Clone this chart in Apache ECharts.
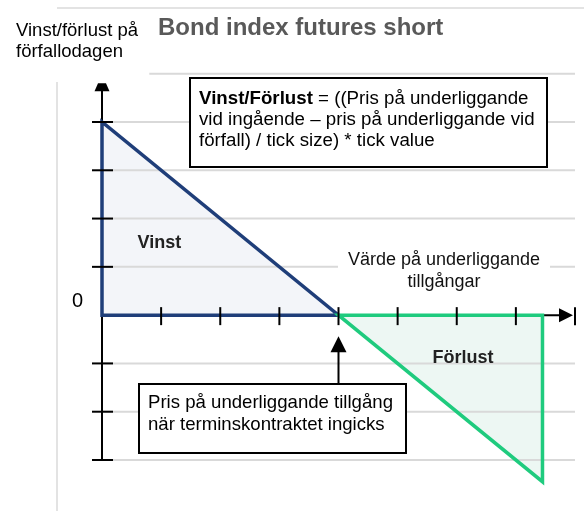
<!DOCTYPE html>
<html>
<head>
<meta charset="utf-8">
<script src="https://cdn.jsdelivr.net/npm/echarts@6/dist/echarts.min.js"></script>
<style>
  html, body { margin: 0; padding: 0; background: #fff; }
  #chart { width: 584px; height: 511px; }
</style>
</head>
<body>
<div id="chart"></div>
<script>
// Payoff of a short bond index future at expiry (schematic units)
const xTicks = [1, 2, 3, 4, 5, 6, 7, 8];          // underlying value ticks
const yTicks = [-3, -2, -1, 1, 2, 3, 4];          // payoff ticks
const gridLevels = [-3, -2, -1, 1, 2, 3, 4, 5];   // horizontal guide lines
const payoffX = [0, 4, 7.45];                     // underlying value at expiry
const payoffY = [4, 0, -3.45];                    // profit / loss at expiry
const entryPrice = 4;                             // price when the contract was entered

const FONT = "'Liberation Sans', Arial, Helvetica, sans-serif";
const X_MIN = 0, X_MAX = 8, Y_MIN = -3, Y_MAX = 5;
const Y_AXIS_TIP = 4.8;

const chart = echarts.init(document.getElementById('chart'), null, { renderer: 'canvas' });

const profitArea = [[payoffX[0], 0], [payoffX[0], payoffY[0]], [payoffX[1], payoffY[1]]];
const lossArea = [[payoffX[1], payoffY[1]], [payoffX[2], 0], [payoffX[2], payoffY[2]]];

function polygonSeries(points, fill, stroke) {
  return {
    type: 'custom', coordinateSystem: 'cartesian2d', clip: false, silent: true,
    data: [[0, 0]],
    renderItem: function (params, api) {
      return {
        type: 'polygon',
        shape: { points: points.map(p => api.coord(p)) },
        style: { fill: fill, stroke: stroke, lineWidth: stroke === 'none' ? 0 : 3.5, lineJoin: 'miter' }
      };
    }
  };
}

const option = {
  animation: false,
  backgroundColor: '#ffffff',
  grid: { left: 102, right: 9, top: 73.7, bottom: 51 },
  xAxis: { type: 'value', min: X_MIN, max: X_MAX, show: false },
  yAxis: { type: 'value', min: Y_MIN, max: Y_MAX, show: false },
  series: [
    // shaded profit / loss regions
    polygonSeries(profitArea, '#F3F5F9', 'none'),
    polygonSeries(lossArea, '#EDF7F3', 'none'),
    // guide lines
    {
      type: 'custom', coordinateSystem: 'cartesian2d', clip: false, silent: true,
      data: [[0, 0]],
      renderItem: function (params, api) {
        return {
          type: 'group',
          children: gridLevels.map(function (v) {
            const a = api.coord([v === Y_MAX ? 0.8 : X_MIN, v]);
            const b = api.coord([X_MAX, v]);
            return { type: 'line', shape: { x1: a[0], y1: a[1], x2: b[0], y2: b[1] },
                     style: { stroke: '#D9D9D9', lineWidth: 2 } };
          })
        };
      }
    },
    // axes with arrow heads
    {
      type: 'custom', coordinateSystem: 'cartesian2d', clip: false, silent: true,
      data: [[0, 0]],
      renderItem: function (params, api) {
        const o = api.coord([0, 0]);
        const yb = api.coord([0, Y_MIN]);
        const yt = api.coord([0, Y_AXIS_TIP]);
        const xe = api.coord([X_MAX, 0]);
        const tipX = xe[0] - 2;
        return {
          type: 'group',
          children: [
            { type: 'line', shape: { x1: yb[0], y1: yb[1], x2: yt[0], y2: yt[1] + 4 }, style: { stroke: '#000', lineWidth: 2 } },
            { type: 'polygon', shape: { points: [[yt[0] - 4, yt[1]], [yt[0] + 4, yt[1]], [yt[0] + 7.5, yt[1] + 8], [yt[0] - 7.5, yt[1] + 8]] }, style: { fill: '#000' } },
            { type: 'line', shape: { x1: o[0], y1: o[1], x2: tipX - 10, y2: o[1] }, style: { stroke: '#000', lineWidth: 2 } },
            { type: 'polygon', shape: { points: [[tipX, o[1]], [tipX - 14, o[1] - 7], [tipX - 14, o[1] + 7]] }, style: { fill: '#000' } }
          ]
        };
      }
    },
    // payoff outlines
    polygonSeries(profitArea, 'none', '#1F3E79'),
    polygonSeries(lossArea, 'none', '#1FCB7E'),
    // tick marks
    {
      type: 'custom', coordinateSystem: 'cartesian2d', clip: false, silent: true,
      data: [[0, 0]],
      renderItem: function (params, api) {
        const kids = [];
        xTicks.forEach(function (v) {
          const p = api.coord([v, 0]);
          kids.push({ type: 'line', shape: { x1: p[0], y1: p[1] - 8, x2: p[0], y2: p[1] + 10 }, style: { stroke: '#000', lineWidth: 2 } });
        });
        yTicks.forEach(function (v) {
          const p = api.coord([0, v]);
          kids.push({ type: 'line', shape: { x1: p[0] - 10, y1: p[1], x2: p[0] + 11, y2: p[1] }, style: { stroke: '#000', lineWidth: 2 } });
        });
        return { type: 'group', children: kids };
      }
    },
    // pointer to the entry price
    {
      type: 'custom', coordinateSystem: 'cartesian2d', clip: false, silent: true,
      data: [[entryPrice, 0]],
      renderItem: function (params, api) {
        const p = api.coord([api.value(0), api.value(1)]);
        const tipY = p[1] + 21;
        return {
          type: 'group',
          children: [
            { type: 'line', shape: { x1: p[0], y1: tipY + 10, x2: p[0], y2: 384 }, style: { stroke: '#000', lineWidth: 2 } },
            { type: 'polygon', shape: { points: [[p[0], tipY], [p[0] - 8, tipY + 16], [p[0] + 8, tipY + 16]] }, style: { fill: '#000' } }
          ]
        };
      }
    }
  ],
  graphic: [
    // frame lines
    { type: 'line', z: 1, shape: { x1: 57, y1: 8, x2: 584, y2: 8 }, style: { stroke: '#E3E3E3', lineWidth: 2 } },
    { type: 'line', z: 1, shape: { x1: 57, y1: 82, x2: 57, y2: 511 }, style: { stroke: '#E3E3E3', lineWidth: 2 } },
    // title and axis captions
    { type: 'text', z: 100, x: 158, y: 28, style: { text: 'Bond index futures short', fontFamily: FONT, fontSize: 24, fontWeight: 'bold', fill: '#595959', verticalAlign: 'middle' } },
    { type: 'text', z: 100, x: 16, y: 20, style: { text: 'Vinst/förlust på\nförfallodagen', fontFamily: FONT, fontSize: 18.5, lineHeight: 21, fill: '#000', verticalAlign: 'top' } },
    { type: 'text', z: 100, x: 77.5, y: 301, style: { text: '0', fontFamily: FONT, fontSize: 20, fill: '#000', align: 'center', verticalAlign: 'middle' } },
    { type: 'text', z: 100, x: 137.5, y: 243, style: { text: 'Vinst', fontFamily: FONT, fontSize: 18, fontWeight: 'bold', fill: '#222', verticalAlign: 'middle' } },
    { type: 'text', z: 100, x: 463, y: 358, style: { text: 'Förlust', fontFamily: FONT, fontSize: 18, fontWeight: 'bold', fill: '#222', align: 'center', verticalAlign: 'middle' } },
    { type: 'rect', z: 99, shape: { x: 338, y: 250, width: 212, height: 42 }, style: { fill: '#fff' } },
    { type: 'text', z: 100, x: 444, y: 271, style: { text: 'Värde på underliggande\ntillgångar', fontFamily: FONT, fontSize: 18, lineHeight: 21.5, fill: '#111', align: 'center', verticalAlign: 'middle' } },
    // formula box
    { type: 'rect', z: 99, shape: { x: 190, y: 78, width: 357, height: 89 }, style: { fill: '#fff', stroke: '#000', lineWidth: 2 } },
    { type: 'text', z: 100, x: 199, y: 88, style: {
        text: '{b|Vinst/Förlust} = ((Pris på underliggande\nvid ingående – pris på underliggande vid\nförfall) / tick size) * tick value',
        fontFamily: FONT, fontSize: 18.7, lineHeight: 21, fill: '#000', verticalAlign: 'top',
        rich: { b: { fontFamily: FONT, fontSize: 18.7, fontWeight: 'bold', lineHeight: 21, fill: '#000' } } } },
    // entry price note
    { type: 'rect', z: 99, shape: { x: 139, y: 384, width: 267, height: 69 }, style: { fill: '#fff', stroke: '#000', lineWidth: 2 } },
    { type: 'text', z: 100, x: 148, y: 392.5, style: { text: 'Pris på underliggande tillgång\nnär terminskontraktet ingicks', fontFamily: FONT, fontSize: 18.6, lineHeight: 21.7, fill: '#000', verticalAlign: 'top' } }
  ]
};

chart.setOption(option);
</script>
</body>
</html>
